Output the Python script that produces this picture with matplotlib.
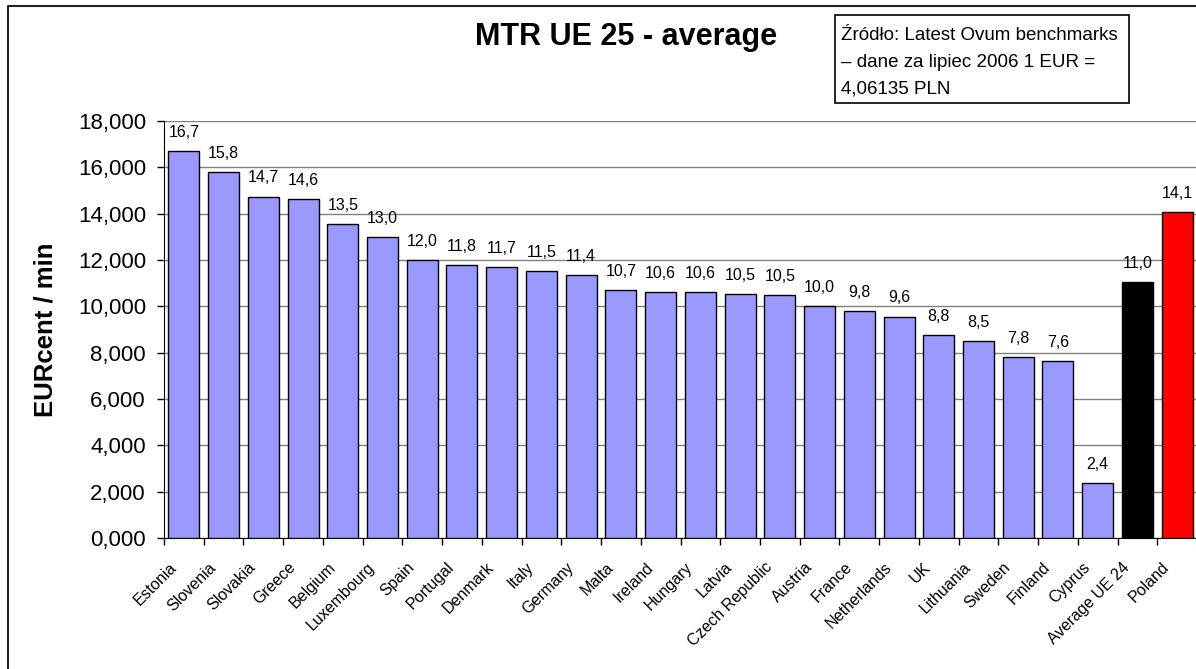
import matplotlib
matplotlib.use("Agg")
import matplotlib.pyplot as plt
from matplotlib.lines import Line2D
from matplotlib.patches import Rectangle
from matplotlib.ticker import FuncFormatter, MultipleLocator, FixedLocator
import matplotlib.transforms as mtransforms

plt.rcParams['font.family'] = ['Liberation Sans', 'DejaVu Sans']

categories = ["Estonia", "Slovenia", "Slovakia", "Greece", "Belgium", "Luxembourg",
              "Spain", "Portugal", "Denmark", "Italy", "Germany", "Malta", "Ireland",
              "Hungary", "Latvia", "Czech Republic", "Austria", "France", "Netherlands",
              "UK", "Lithuania", "Sweden", "Finland", "Cyprus", "Average UE 24", "Poland"]
values = [16.70, 15.80, 14.74, 14.62, 13.54, 13.00, 11.98, 11.80, 11.68, 11.54, 11.36,
          10.70, 10.60, 10.60, 10.52, 10.48, 10.02, 9.78, 9.56, 8.76, 8.50, 7.80, 7.62,
          2.36, 11.04, 14.08]
colors = ["#9999FF"] * 24 + ["#000000", "#FF0000"]

title = "MTR UE 25 - average"
ylabel = "EURcent / min"
note_lines = ["Źródło: Latest Ovum benchmarks",
              "– dane za lipiec 2006 1 EUR =",
              "4,06135 PLN"]

W, H = 1196, 669
fig = plt.figure(figsize=(W / 100, H / 100), dpi=100)
# plot area in pixels: x 164..1197, y 121..538
ax = fig.add_axes([164 / W, (H - 538) / H, 1033 / W, (538 - 121) / H])

x = list(range(len(categories)))
ax.bar(x, values, width=0.78, color=colors, edgecolor="black", linewidth=1.0, zorder=3)

for xi, v in zip(x, values):
    ax.annotate(f"{v:.1f}".replace(".", ","), (xi, v), xytext=(0, 8),
                textcoords="offset points", ha="center", va="bottom", fontsize=11.5)

ax.set_xlim(-0.5, len(categories) - 0.5)
ax.set_ylim(0, 18)
ax.yaxis.set_major_locator(MultipleLocator(2))
ax.yaxis.set_major_formatter(FuncFormatter(lambda v, p: f"{v:.0f},000"))
ax.grid(axis="y", color="#808080", linewidth=1.0, zorder=0)

ax.xaxis.set_major_locator(FixedLocator(x))
ax.set_xticklabels(categories, rotation=45, ha="right", va="center",
                   rotation_mode="anchor", fontsize=11.5)
ax.tick_params(axis="x", which="major", length=0, pad=0)
offset = mtransforms.ScaledTranslation(-10 / 100, -27 / 100, fig.dpi_scale_trans)
for lab in ax.get_xticklabels():
    lab.set_transform(lab.get_transform() + offset)
ax.xaxis.set_minor_locator(FixedLocator([i + 0.5 for i in range(-1, len(categories))]))
ax.tick_params(axis="x", which="minor", length=5, width=1, color="black", direction="out")
ax.tick_params(axis="y", labelsize=16, length=5, width=1, direction="out", pad=8)

for s in ["top", "right"]:
    ax.spines[s].set_visible(False)
ax.spines["left"].set_color("black")
ax.spines["bottom"].set_color("black")

fig.text(46 / W, (H - 330) / H, ylabel, ha="center", va="center", rotation=90,
         fontsize=18.5, fontweight="bold")

fig.text(626 / W, (H - 37) / H, title, ha="center", va="center", fontsize=22, fontweight="bold")

# note box
fig.patches.append(Rectangle((835 / W, (H - 103) / H), (1129 - 835) / W, (103 - 15) / H,
                             transform=fig.transFigure, facecolor="white",
                             edgecolor="black", linewidth=1.2, zorder=5))
for line, base in zip(note_lines, [40, 67, 93]):
    fig.text(841 / W, (H - base) / H, line, ha="left", va="baseline", fontsize=13.5, zorder=6)

# outer chart border (left and top)
fig.lines.append(Line2D([8 / W, 8 / W, 1.0], [0.0, (H - 6) / H, (H - 6) / H],
                        transform=fig.transFigure, color="#222222", linewidth=1.5))

fig.savefig("out.png", dpi=100)
